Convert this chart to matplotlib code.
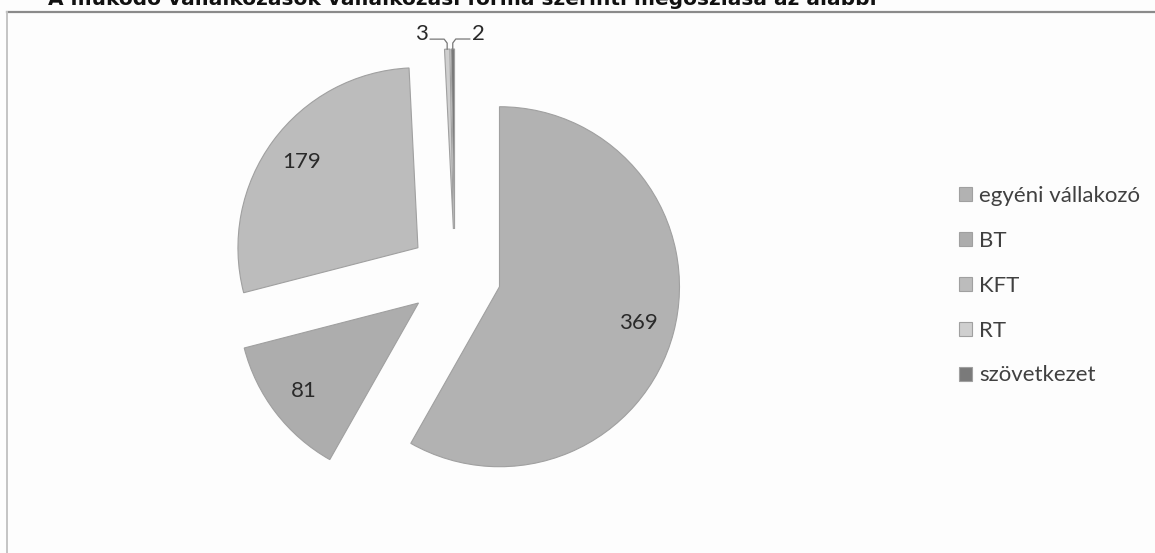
import matplotlib.pyplot as plt
import numpy as np

# data
categories = ["egyéni vállakozó", "BT", "KFT", "RT", "szövetkezet"]
values = [369, 81, 179, 3, 2]
colors = ["#b2b2b2", "#adadad", "#bcbcbc", "#cfcfcf", "#7a7a7a"]
title = "A működő vállalkozások vállalkozási forma szerinti megoszlása az alábbi"

W, H = 1155, 553
fig = plt.figure(figsize=(W / 100, H / 100), dpi=100)
fig.patch.set_facecolor("#fdfdfd")
ax = fig.add_axes([0, 0, 1, 1])

# chart frame (scanned page, top and left edge visible)
ax.plot([7, W], [H - 12, H - 12], color="#8a8a8a", lw=1.6)
ax.plot([7, 7], [H - 12, 0], color="#c4c4c4", lw=1.4)

# title, cut off at the top of the scan
fig.text(48 / W, 1.0 + 1 / H, title, fontsize=14.5, fontweight="bold",
         family="DejaVu Sans", color="#111111", va="center", ha="left")

cx, cy, r = 455, H - 275, 180
expl = 46
wedges, texts, autotexts = ax.pie(
    values, colors=colors, startangle=90, counterclock=False,
    center=(cx, cy), radius=r, explode=[expl] * len(values),
    autopct=lambda p: "", pctdistance=0.8,
    wedgeprops=dict(edgecolor="#a0a0a0", linewidth=0.8), frame=True)
ax.set_xlim(0, W)
ax.set_ylim(0, H)
ax.set_aspect("equal")
ax.axis("off")

# value labels inside large slices, leaders for the tiny ones
for w, v in zip(wedges, values):
    tm = np.deg2rad((w.theta1 + w.theta2) / 2)
    x0, y0 = w.center
    if v > 20:
        ax.text(x0 + 0.8 * r * np.cos(tm), y0 + 0.8 * r * np.sin(tm), str(v),
                fontsize=16, family="Lato", color="#2a2a2a",
                ha="center", va="center")

small = [(w, v) for w, v in zip(wedges, values) if v <= 20]
for i, (w, v) in enumerate(small):
    tm = np.deg2rad((w.theta1 + w.theta2) / 2)
    x0, y0 = w.center
    tx, ty = x0 + r * np.cos(tm), y0 + r * np.sin(tm)
    side = -1 if i == 0 else 1
    lx = tx + side * 17
    ly = ty + 10
    ax.plot([tx, tx, tx + side * 3, lx], [ty, ty + 6, ly, ly],
            color="#777777", lw=0.9)
    ax.text(lx + side * 2, ly + 5, str(v), fontsize=16, family="Lato",
            color="#2a2a2a", ha="right" if side < 0 else "left", va="center")

# legend
leg = ax.legend(wedges, categories, loc="upper left",
                bbox_to_anchor=(950 / W, (H - 177) / H), frameon=False,
                prop=dict(family="Lato", size=16), labelcolor="#404040",
                handlelength=0.6, handleheight=0.6, handletextpad=0.3,
                labelspacing=1.12, borderaxespad=0)

fig.savefig("out.png", dpi=100, facecolor=fig.get_facecolor())
